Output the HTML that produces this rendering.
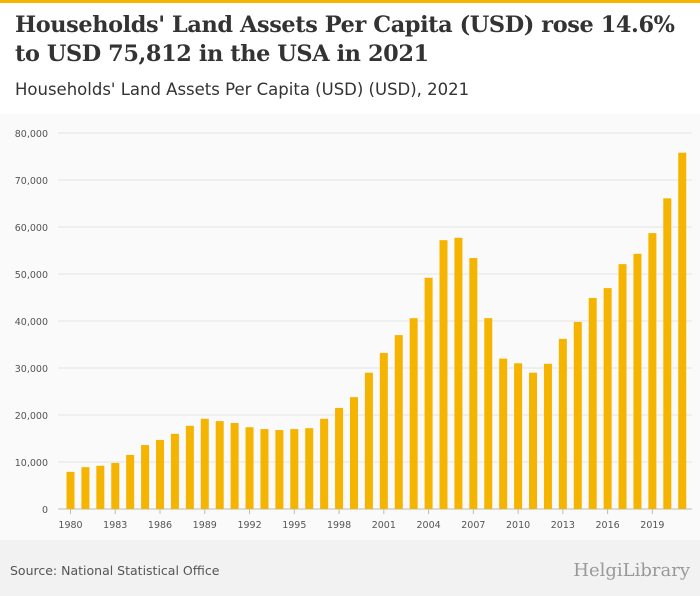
<!DOCTYPE html>
<html><head><meta charset="utf-8"><style>
body{margin:0;width:700px;height:596px;overflow:hidden;background:#fff;font-family:"Liberation Sans",sans-serif}
#top{position:absolute;left:0;top:0;width:700px;height:3px;background:#f5b400}
#title{position:absolute;left:15px;top:11px;font-family:"DejaVu Serif","Liberation Serif",serif;font-weight:bold;font-size:22.4px;line-height:29px;color:#333;letter-spacing:-0.4px;white-space:nowrap}
#sub{position:absolute;left:15px;top:80px;font-family:"DejaVu Sans",sans-serif;font-size:16.5px;color:#333}
#chartbg{position:absolute;left:0;top:114px;width:700px;height:426px;background:#fafafa}
#foot{position:absolute;left:0;top:540px;width:700px;height:56px;background:#f2f2f2}
#src{position:absolute;left:10px;top:563px;font-family:"DejaVu Sans",sans-serif;font-size:12.5px;color:#555}
#logo{position:absolute;right:10px;top:560px;font-size:18px;color:#999;font-family:"DejaVu Serif",serif}
svg{position:absolute;left:0;top:0}
</style></head><body>
<div id="top"></div>
<div id="title">Households' Land Assets Per Capita (USD) rose 14.6%<br>to USD 75,812 in the USA in 2021</div>
<div id="sub">Households' Land Assets Per Capita (USD) (USD), 2021</div>
<div id="chartbg"></div>
<div id="foot"></div>
<div id="src">Source: National Statistical Office</div>
<div id="logo">HelgiLibrary</div>
<svg id="chart" width="700" height="596"></svg>
<script>
const years=[];for(let y=1980;y<=2021;y++)years.push(y);
const values=[7900,8900,9200,9800,11500,13600,14700,16000,17700,19200,18700,18300,17400,17000,16800,17000,17200,19200,21500,23800,29000,33200,37000,40600,49200,57200,57700,53400,40600,32000,31000,29000,30900,36200,39800,44900,47000,52100,54300,58700,66100,75812];
const yTicks=[0,10000,20000,30000,40000,50000,60000,70000,80000];
const xLabels=[1980,1983,1986,1989,1992,1995,1998,2001,2004,2007,2010,2013,2016,2019];
const svg=document.getElementById('chart');const NS='http://www.w3.org/2000/svg';
const y0=509,y1=133,vmax=80000;
const yS=v=>y0-(v/vmax)*(y0-y1);
const x0=70.5,step=14.92;
const xS=i=>x0+i*step;
function mk(t,a){const e=document.createElementNS(NS,t);for(const k in a)e.setAttribute(k,a[k]);svg.appendChild(e);return e;}
yTicks.forEach(v=>{
 const l=mk('line',{x1:58,x2:692,y1:yS(v),y2:yS(v),stroke:v?'#e4e4e4':'#bbb','stroke-width':1});
 
 
 const t=mk('text',{x:48,y:yS(v)+4,'text-anchor':'end','font-size':9.5,fill:'#555','font-family':'DejaVu Sans'});
 t.textContent=v.toLocaleString('en-US');
 
 
});
values.forEach((v,i)=>{
 const r=mk('rect',{x:xS(i)-4,y:yS(v),width:8,height:y0-yS(v),fill:'#f5b400'});
 
 
});
xLabels.forEach(yr=>{
 const i=years.indexOf(yr);
 const tk=mk('line',{x1:xS(i),x2:xS(i),y1:y0,y2:y0+5,stroke:'#bbb'});
 
 
 const t=mk('text',{x:xS(i),y:528,'text-anchor':'middle','font-size':9.5,fill:'#555','font-family':'DejaVu Sans'});
 t.textContent=yr;
 
 
});
</script>
</body></html>
